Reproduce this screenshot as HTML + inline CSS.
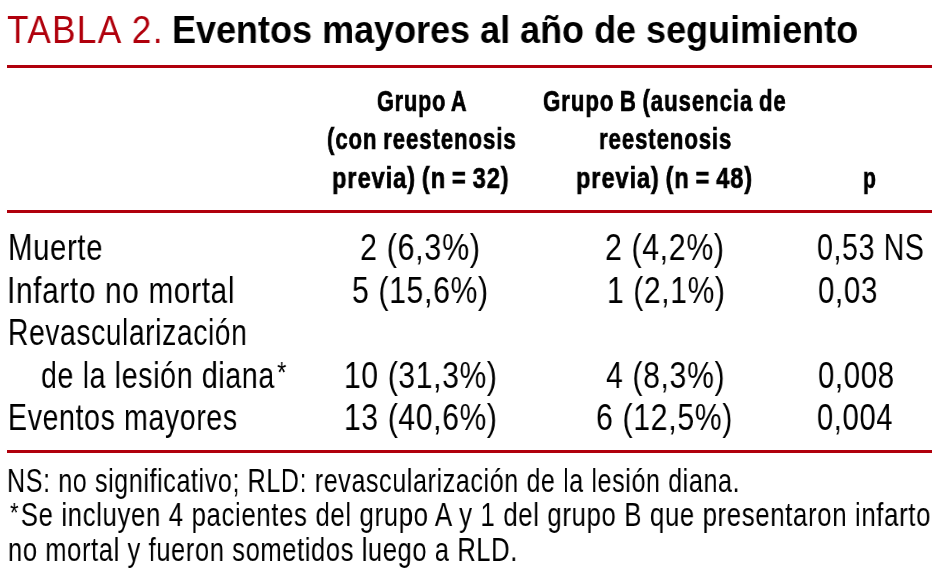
<!DOCTYPE html>
<html><head><meta charset="utf-8"><style>
html,body{margin:0;padding:0;background:#fff;width:942px;height:578px;overflow:hidden;position:relative}
.t{position:absolute;white-space:nowrap;line-height:0;font-family:"Liberation Sans",sans-serif;font-weight:normal;transform-origin:0 0}
.b{font-weight:bold}
.r{position:absolute;left:7px;width:925px;height:3px;background:#b0000c}
.t{will-change:transform;letter-spacing:0.8px}.h{-webkit-text-stroke:0.7px #000;letter-spacing:1.2px;word-spacing:-2px}.ti{letter-spacing:0}
</style></head><body>
<div class="r" style="top:65px"></div>
<div class="r" style="top:210px"></div>
<div class="r" style="top:450px"></div>
<div class="t ti" style="left:6.77px;top:30.00px;font-size:38px;color:#b0000c;transform:scaleX(0.9242);letter-spacing:1.5px">TABLA 2.</div>
<div class="t b ti" style="left:171.87px;top:30.00px;font-size:38px;color:#000;transform:scaleX(0.9471)">Eventos mayores al año de seguimiento</div>
<div class="t b h" style="left:376.83px;top:100.70px;font-size:30px;color:#000;transform:scaleX(0.7207)">Grupo A</div>
<div class="t b h" style="left:326.84px;top:138.80px;font-size:30px;color:#000;transform:scaleX(0.7417)">(con reestenosis</div>
<div class="t b h" style="left:331.90px;top:177.80px;font-size:30px;color:#000;transform:scaleX(0.7867)">previa) (n = 32)</div>
<div class="t b h" style="left:543.46px;top:100.70px;font-size:30px;color:#000;transform:scaleX(0.7425)">Grupo B (ausencia de</div>
<div class="t b h" style="left:598.70px;top:138.80px;font-size:30px;color:#000;transform:scaleX(0.7403)">reestenosis</div>
<div class="t b h" style="left:576.29px;top:177.80px;font-size:30px;color:#000;transform:scaleX(0.7842)">previa) (n = 48)</div>
<div class="t b h" style="left:863.14px;top:177.80px;font-size:30px;color:#000;transform:scaleX(0.6995)">p</div>
<div class="t" style="left:7.54px;top:248.00px;font-size:36.5px;color:#000;transform:scaleX(0.8041)">Muerte</div>
<div class="t" style="left:7.21px;top:291.00px;font-size:36.5px;color:#000;transform:scaleX(0.8166)">Infarto no mortal</div>
<div class="t" style="left:8.20px;top:333.00px;font-size:36.5px;color:#000;transform:scaleX(0.7729)">Revascularización</div>
<div class="t" style="left:41.39px;top:376.00px;font-size:36.5px;color:#000;transform:scaleX(0.7834)">de la lesión diana<span style="font-size:30px;margin-left:3px;position:relative;top:-6px">*</span></div>
<div class="t" style="left:8.17px;top:418.00px;font-size:36.5px;color:#000;transform:scaleX(0.7814)">Eventos mayores</div>
<div class="t" style="left:360.04px;top:248.00px;font-size:36.5px;color:#000;transform:scaleX(0.8351)">2 (6,3%)</div>
<div class="t" style="left:352.28px;top:291.00px;font-size:36.5px;color:#000;transform:scaleX(0.8260)">5 (15,6%)</div>
<div class="t" style="left:343.54px;top:376.00px;font-size:36.5px;color:#000;transform:scaleX(0.8234)">10 (31,3%)</div>
<div class="t" style="left:343.54px;top:418.00px;font-size:36.5px;color:#000;transform:scaleX(0.8234)">13 (40,6%)</div>
<div class="t" style="left:604.83px;top:248.00px;font-size:36.5px;color:#000;transform:scaleX(0.8280)">2 (4,2%)</div>
<div class="t" style="left:606.58px;top:291.00px;font-size:36.5px;color:#000;transform:scaleX(0.8207)">1 (2,1%)</div>
<div class="t" style="left:605.84px;top:376.00px;font-size:36.5px;color:#000;transform:scaleX(0.8254)">4 (8,3%)</div>
<div class="t" style="left:596.20px;top:418.00px;font-size:36.5px;color:#000;transform:scaleX(0.8282)">6 (12,5%)</div>
<div class="t" style="left:817.02px;top:248.00px;font-size:36.5px;color:#000;transform:scaleX(0.7822)">0,53 NS</div>
<div class="t" style="left:817.88px;top:291.00px;font-size:36.5px;color:#000;transform:scaleX(0.8078)">0,03</div>
<div class="t" style="left:817.88px;top:376.00px;font-size:36.5px;color:#000;transform:scaleX(0.8040)">0,008</div>
<div class="t" style="left:816.99px;top:418.00px;font-size:36.5px;color:#000;transform:scaleX(0.7981)">0,004</div>
<div class="t" style="left:7.29px;top:481.00px;font-size:33px;color:#000;transform:scaleX(0.7600)">NS: no significativo; RLD: revascularización de la lesión diana.</div>
<div class="t" style="left:10.26px;top:515.00px;font-size:33px;color:#000;transform:scaleX(0.7818)"><span style="font-size:28px;margin-right:2px;position:relative;top:-4px">*</span>Se incluyen 4 pacientes del grupo A y 1 del grupo B que presentaron infarto</div>
<div class="t" style="left:7.81px;top:549.80px;font-size:33px;color:#000;transform:scaleX(0.7724)">no mortal y fueron sometidos luego a RLD.</div>
</body></html>
